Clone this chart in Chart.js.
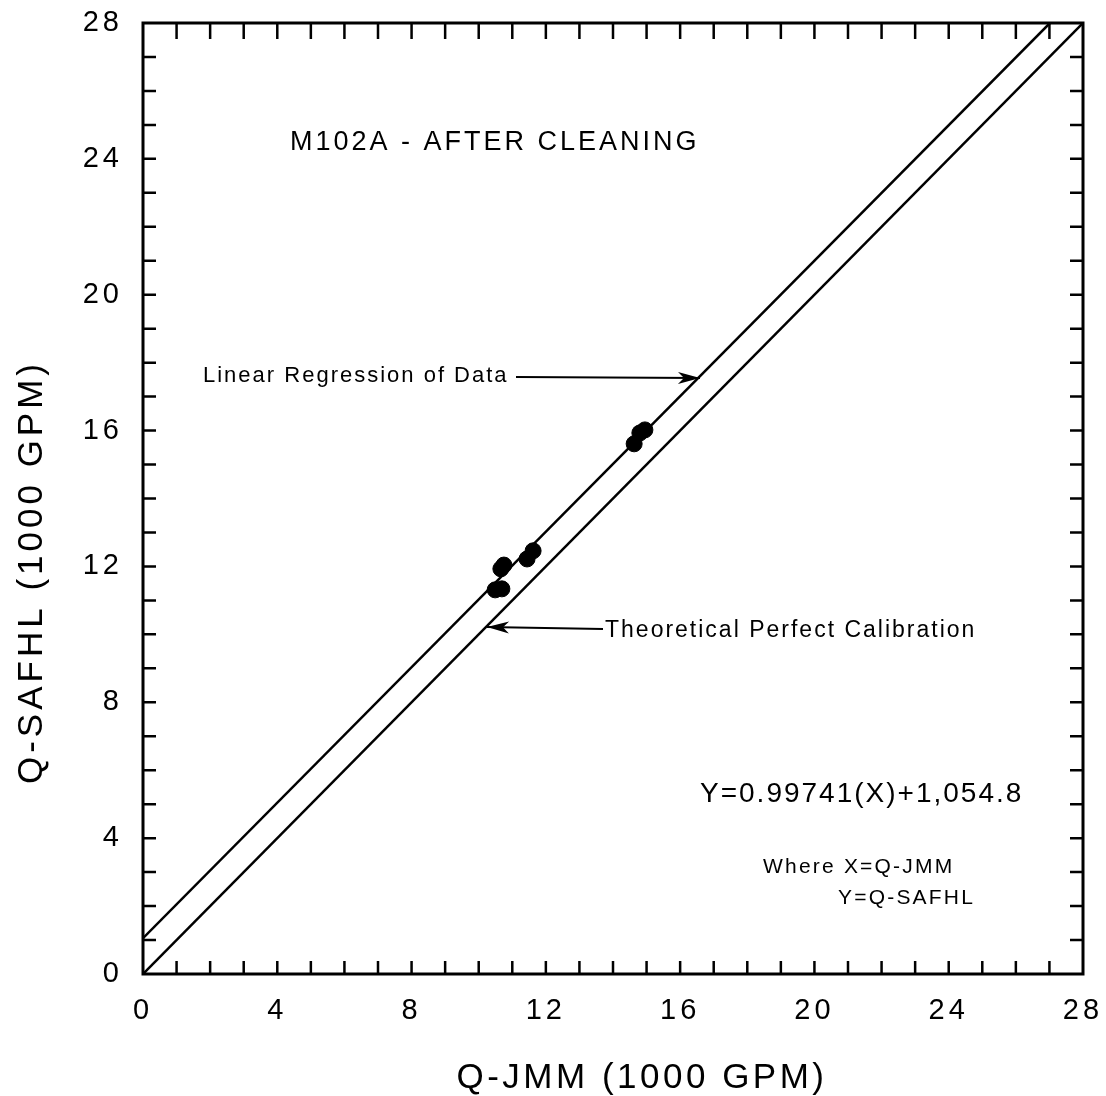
<!DOCTYPE html>
<html>
<head>
<meta charset="utf-8">
<script src="https://cdn.jsdelivr.net/npm/chart.js@4.4.0/dist/chart.umd.min.js"></script>
<style>
  html, body { margin: 0; padding: 0; background: #fff; }
  #wrap { width: 1106px; height: 1096px; }
</style>
</head>
<body>
<div id="wrap"><canvas id="calib"></canvas></div>
<script>
// measured flows, thousands of GPM
const qJmm    = [10.49, 10.69, 10.66, 10.75, 11.44, 11.62, 14.63, 14.80, 14.95]
const qSafhl  = [11.31, 11.34, 11.93, 12.04, 12.22, 12.46, 15.61, 15.93, 16.02]

// regression fit: Y = 0.99741 X + 1,054.8 (GPM) -> intercept in thousands
const slope = 0.99741
const intercept = 1.0548

const axisMax = 28
const tickLabels = [0, 4, 8, 12, 16, 20, 24, 28]

const points = qJmm.map((x, i) => ({ x: x, y: qSafhl[i] }))
const xTop = (axisMax - intercept) / slope
const regression = [
  { x: 0, y: intercept },
  { x: xTop, y: slope * xTop + intercept }
]
const perfect = [ { x: 0, y: 0 }, { x: axisMax, y: axisMax } ]

const FONT = '"Liberation Sans", Arial, Helvetica, sans-serif'

function txt(ctx, s, x, y, size, align, spacing) {
  ctx.font = size + 'px ' + FONT
  ctx.letterSpacing = (spacing || 0) + 'px'
  ctx.textAlign = align || 'left'
  ctx.textBaseline = 'middle'
  ctx.fillText(s, x, y)
}

function arrow(ctx, x1, y1, x2, y2) {
  ctx.beginPath()
  ctx.moveTo(x1, y1)
  ctx.lineTo(x2, y2)
  ctx.stroke()
  const a = Math.atan2(y2 - y1, x2 - x1)
  ctx.beginPath()
  ctx.moveTo(x2, y2)
  ctx.lineTo(x2 - 22 * Math.cos(a) + 6 * Math.sin(a), y2 - 22 * Math.sin(a) - 6 * Math.cos(a))
  ctx.lineTo(x2 - 16 * Math.cos(a), y2 - 16 * Math.sin(a))
  ctx.lineTo(x2 - 22 * Math.cos(a) - 6 * Math.sin(a), y2 - 22 * Math.sin(a) + 6 * Math.cos(a))
  ctx.closePath()
  ctx.fill()
}

// frame, inward ticks, tick labels, titles and notes
const decor = {
  id: 'decor',
  afterDatasetsDraw(chart) {
    const ctx = chart.ctx
    const a = chart.chartArea
    const xs = chart.scales.x
    const ys = chart.scales.y
    ctx.save()
    ctx.strokeStyle = '#000'
    ctx.fillStyle = '#000'
    ctx.lineWidth = 3
    ctx.strokeRect(a.left, a.top, a.right - a.left, a.bottom - a.top)

    ctx.lineWidth = 2.5
    for (let v = 1; v < axisMax; v++) {
      const px = xs.getPixelForValue(v)
      const py = ys.getPixelForValue(v)
      ctx.beginPath()
      ctx.moveTo(px, a.bottom); ctx.lineTo(px, a.bottom - 13)
      ctx.moveTo(px, a.top); ctx.lineTo(px, a.top + 16)
      ctx.moveTo(a.left, py); ctx.lineTo(a.left + 13, py)
      ctx.moveTo(a.right, py); ctx.lineTo(a.right - 13, py)
      ctx.stroke()
    }

    tickLabels.forEach(v => {
      txt(ctx, String(v), xs.getPixelForValue(v), a.bottom + 37, 29, 'center', 4)
      txt(ctx, String(v), a.left - 20, ys.getPixelForValue(v), 29, 'right', 4)
    })

    txt(ctx, 'Q-JMM (1000 GPM)', 642, 1078, 35, 'center', 3.5)
    ctx.save()
    ctx.translate(32, 572)
    ctx.rotate(-Math.PI / 2)
    txt(ctx, 'Q-SAFHL (1000 GPM)', 0, 0, 35, 'center', 4)
    ctx.restore()

    txt(ctx, 'M102A - AFTER CLEANING', 290, 143, 27, 'left', 3)

    txt(ctx, 'Linear Regression of Data', 203, 376, 22, 'left', 2)
    ctx.lineWidth = 2
    arrow(ctx, 516, 377, 700, 378)

    txt(ctx, 'Theoretical Perfect Calibration', 605, 631, 23, 'left', 2)
    arrow(ctx, 603, 629, 487, 627)

    txt(ctx, 'Y=0.99741(X)+1,054.8', 700, 794, 28, 'left', 2)
    txt(ctx, 'Where X=Q-JMM', 763, 867, 21, 'left', 2.2)
    txt(ctx, 'Y=Q-SAFHL', 838, 898, 21, 'left', 2.2)
    ctx.restore()
  }
}

new Chart(document.querySelector('#calib'), {
  type: 'scatter',
  plugins: [decor],
  data: {
    datasets: [{
      label: 'Theoretical Perfect Calibration',
      data: perfect,
      showLine: true,
      borderColor: '#000',
      borderWidth: 2.5,
      pointRadius: 0
    }, {
      label: 'Linear Regression of Data',
      data: regression,
      showLine: true,
      borderColor: '#000',
      borderWidth: 2.5,
      pointRadius: 0
    }, {
      label: 'M102A',
      data: points,
      backgroundColor: '#000',
      borderColor: '#000',
      pointRadius: 8,
      pointHoverRadius: 8
    }]
  },
  options: {
    responsive: true,
    maintainAspectRatio: false,
    animation: false,
    layout: {
      padding: { left: 143, top: 23, right: 23, bottom: 122 }
    },
    scales: {
      x: { type: 'linear', min: 0, max: axisMax, display: false },
      y: { type: 'linear', min: 0, max: axisMax, display: false }
    },
    plugins: {
      legend: { display: false },
      tooltip: { enabled: false }
    }
  }
})
</script>
</body>
</html>
